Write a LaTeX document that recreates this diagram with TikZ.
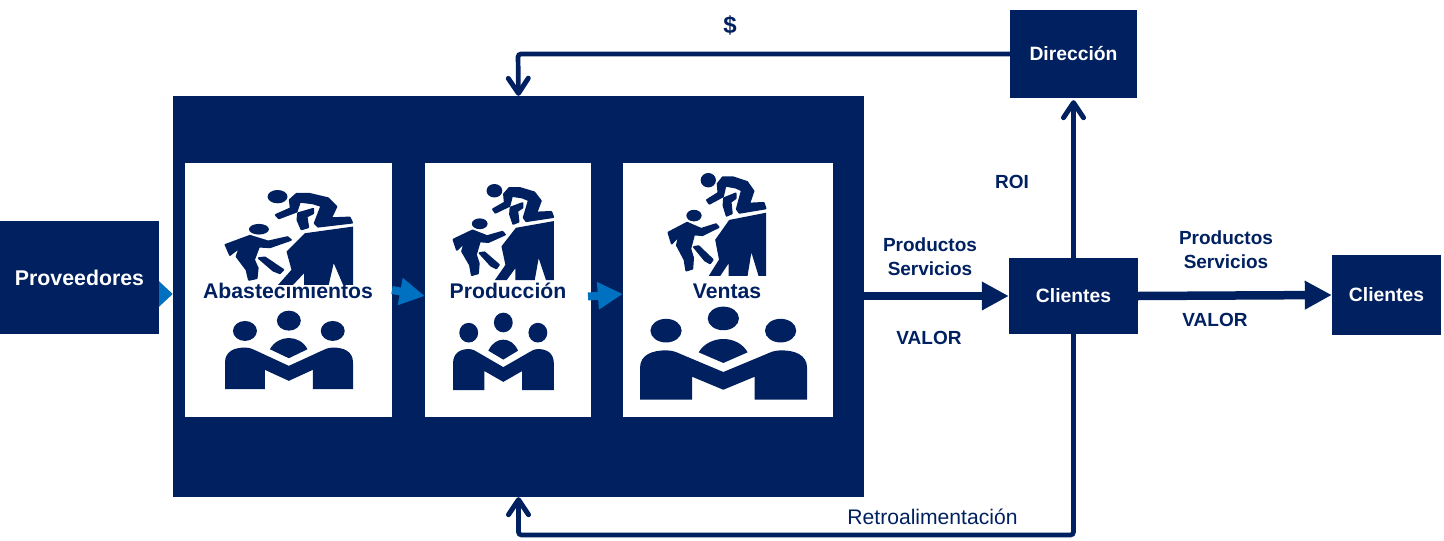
\documentclass[tikz,border=0pt]{standalone}
\usepackage{fontspec}
\setmainfont{Liberation Sans}
\usetikzlibrary{arrows.meta,backgrounds}
\definecolor{navy}{HTML}{002060}
\definecolor{azul}{HTML}{0070C0}
\newcommand{\fs}[1]{\fontsize{#1}{24}\selectfont}
\tikzset{
  box/.style={fill=navy,text=white,inner sep=0pt,font=\fs{19.3}\bfseries},
  panel/.style={fill=white,inner sep=0pt},
  etiqueta/.style={text=navy,inner sep=0pt,align=center,font=\fs{19}\bfseries},
  titulo/.style={text=navy,inner sep=0pt,font=\fs{21.2}\bfseries},
  linea/.style={navy,line width=4.7pt,rounded corners=3pt,-{Straight Barb[length=15pt,width=20pt,line width=5pt,round]}},
  flujo/.style={navy,line width=8.5pt,-{Triangle[length=27pt,width=27pt]}},
  azulflecha/.style={azul,line width=8pt,-{Triangle[length=25pt,width=26pt]}},
  icono/.style={fill=navy,draw=navy,line width=2pt,line join=round},
  escalada/.pic={
    \fill[navy] (158,20) ellipse (30 and 20);
    \fill[navy] (102,118) ellipse (30 and 16);
    \path[icono] (153,75) -- (198,55) -- (195,30) -- (215,12) -- (255,12) -- (310,25) -- (335,50) -- (318,85) -- (375,83) -- (382,98) -- (280,110) -- (270,100) -- (290,48) -- (265,40) -- (225,35) -- (215,65) -- (162,85) -- cycle;
    \path[icono] (220,70) -- (265,57) -- (265,70) -- (245,80) -- (250,112) -- (230,118) -- (218,90) -- cycle;
    \fill[navy] (240,130) -- (385,110) -- (385,285) -- (355,285) -- (327,220) -- (312,285) -- (238,285) -- (238,250) -- (205,285) -- (160,285) -- (200,240) -- (185,185) -- (225,145) -- cycle;
    \path[icono] (2,165) -- (75,138) -- (130,155) -- (188,142) -- (198,150) -- (135,172) -- (102,170) -- (87,210) -- (98,235) -- (95,265) -- (72,270) -- (65,240) -- (35,200) -- (45,172) -- (15,195) -- cycle;
    \path[icono] (102,205) -- (120,203) -- (175,240) -- (165,250) -- (145,242) -- cycle;
  },
  equipo/.pic={
    \fill[navy] (60,60) ellipse (36 and 30);
    \fill[navy] (192,29) ellipse (36 and 30);
    \fill[navy] (324,60) ellipse (36 and 30);
    \fill[navy] (135,115) .. controls (160,70) and (225,70) .. (248,115) -- (192,142) -- cycle;
    \fill[navy] (0,235) -- (0,155) .. controls (0,120) and (30,110) .. (60,110) .. controls (75,110) and (85,115) .. (95,120) -- (192,165) -- (290,120) .. controls (300,115) and (310,110) .. (325,110) .. controls (355,110) and (385,120) .. (385,155) -- (385,235) -- (264,235) -- (264,177) -- (192,210) -- (120,177) -- (120,235) -- cycle;
  },
}
\begin{document}
\begin{tikzpicture}[x=1pt,y=-1pt]
\useasboundingbox (0,0) rectangle (1444,541);
% bloques
\node[box,font=\fs{21.3}\bfseries,minimum width=159pt,minimum height=113pt] (proveedores) at (79.5,277.5) {Proveedores};
\node[box,minimum width=691pt,minimum height=401pt] (empresa) at (518.5,296.5) {};
\node[panel,minimum width=207pt,minimum height=254pt] (abasto) at (288.5,290) {};
\node[panel,minimum width=166pt,minimum height=254pt] (prod) at (508,290) {};
\node[panel,minimum width=210pt,minimum height=254pt] (ventas) at (728,290) {};
\node[box,minimum width=127pt,minimum height=88pt] (direccion) at (1073.5,54) {Dirección};
\node[box,minimum width=129pt,minimum height=76pt] (clientes) at (1073.5,296) {Clientes};
\node[box,minimum width=109pt,minimum height=80pt] (final) at (1386.5,295) {Clientes};
% iconos
\pic[shift={(225,190)},scale=.3325] {escalada};
\pic[shift={(225,311)},scale=.3325] {equipo};
\pic[shift={(453,184)},xscale=.262,yscale=.337] {escalada};
\pic[shift={(453,313)},xscale=.262,yscale=.328] {equipo};
\pic[shift={(668,173)},xscale=.255,yscale=.361] {escalada};
\pic[shift={(640,307)},xscale=.434,yscale=.394] {equipo};
% textos
\node[titulo] (tabasto) at (288,291) {Abastecimientos};
\node[titulo] (tprod) at (508,291) {Producción};
\node[titulo] (tventas) at (727,291) {Ventas};
\node[etiqueta,font=\fs{24}\bfseries] (dolar) at (730,25) {\$};
\node[etiqueta] (roi) at (1012,182) {ROI};
\node[etiqueta] (prod1) at (930,257) {Productos\\Servicios};
\node[etiqueta] (valor1) at (929,338) {VALOR};
\node[etiqueta] (prod2) at (1226,250) {Productos\\Servicios};
\node[etiqueta] (valor2) at (1215,320) {VALOR};
\node[etiqueta,font=\fs{21.1}] (retro) at (932.5,517) {Retroalimentación};
% flechas
\begin{scope}[on background layer]
\draw[azul,line width=8pt,-{Triangle[length=14pt,width=25pt]}] (proveedores.center |- 0,294) coordinate (a0) -- (empresa.west |- a0);
\end{scope}
\draw[azulflecha] (392,290) coordinate (a1) -- (prod.west |- 0,296);
\draw[azulflecha] (588,296.5) coordinate (a2) -- (ventas.west |- 0,294);
\draw[linea] (direccion.west) -- (518,54) -- (empresa.north);
\draw[linea,shorten >=2pt] (clientes.north) -- (direccion.south);
\draw[linea] (clientes.south) -- (1073.5,535) -- (518.5,535) -- (empresa.south);
\draw[flujo] (empresa.east |- clientes.west) -- (clientes.west);
\draw[flujo] (clientes.east) -- (final.west);
\end{tikzpicture}
\end{document}
